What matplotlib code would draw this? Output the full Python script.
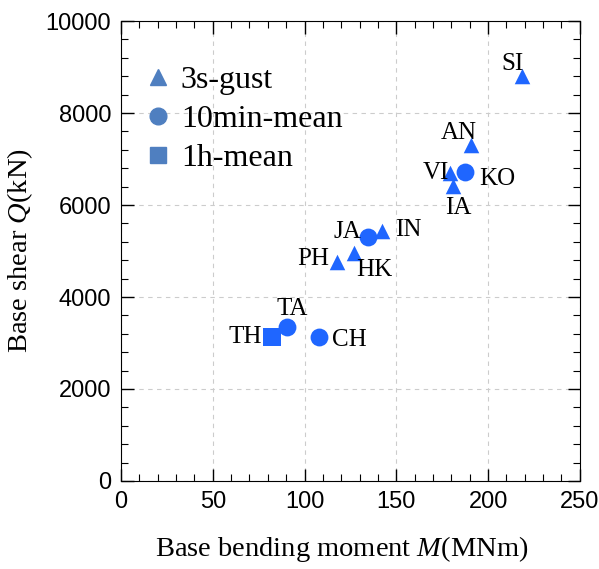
import matplotlib
matplotlib.use('Agg')
import matplotlib.pyplot as plt
from matplotlib.lines import Line2D
from matplotlib.ticker import MultipleLocator

plt.rcParams['mathtext.fontset'] = 'custom'
plt.rcParams['mathtext.rm'] = 'Liberation Serif'
plt.rcParams['mathtext.it'] = 'Liberation Serif:italic'

# Données : moment (MNm), effort tranchant (kN)
gust_names = ['SI', 'AN', 'VI', 'IA', 'IN', 'HK', 'PH']
gust_M = [218.4, 190.6, 179.2, 180.8, 142.0, 126.9, 117.6]
gust_Q = [8800, 7300, 6700, 6410, 5430, 4960, 4760]

mean10_names = ['KO', 'JA', 'TA', 'CH']
mean10_M = [187.4, 134.5, 90.4, 107.8]
mean10_Q = [6710, 5300, 3350, 3130]

hour_names = ['TH']
hour_M = [82.2]
hour_Q = [3130]

# décalages des étiquettes (points)
offsets = {'SI': (-7, 9), 'AN': (-9, 9), 'VI': (-10, 0), 'IA': (4, -16),
           'IN': (19, 1), 'HK': (15, -12), 'PH': (-17, 2), 'KO': (23, -5),
           'JA': (-15, 4), 'TA': (4, 13), 'CH': (22, -2), 'TH': (-19, 0)}

BLUE = '#1f66ff'
LEG = '#4f7fc0'

fig = plt.figure(figsize=(5.99, 5.69), dpi=100)
ax = fig.add_axes([0.202, 0.1547, 0.766, 0.8083])

ax.scatter(gust_M, gust_Q, marker='^', s=125, color=BLUE, zorder=3, linewidths=0)
ax.scatter(mean10_M, mean10_Q, marker='o', s=165, color=BLUE, zorder=3, linewidths=0)
ax.scatter(hour_M, hour_Q, marker='s', s=160, color=BLUE, zorder=3, linewidths=0)

for names, xs, ys in [(gust_names, gust_M, gust_Q), (mean10_names, mean10_M, mean10_Q),
                      (hour_names, hour_M, hour_Q)]:
    for n, x, y in zip(names, xs, ys):
        ax.annotate(n, (x, y), xytext=offsets[n], textcoords='offset points',
                    ha='center', va='center', fontsize=18, family='Liberation Serif', zorder=4)

ax.set_xlim(0, 250)
ax.set_ylim(0, 10000)
ax.xaxis.set_major_locator(MultipleLocator(50))
ax.xaxis.set_minor_locator(MultipleLocator(10))
ax.yaxis.set_major_locator(MultipleLocator(2000))
ax.yaxis.set_minor_locator(MultipleLocator(400))
ax.tick_params(which='both', direction='in', top=True, right=True)
ax.tick_params(which='major', length=9, width=1, labelsize=17, pad=7)
ax.tick_params(which='minor', length=5, width=0.8)
for lab in ax.get_xticklabels() + ax.get_yticklabels():
    lab.set_family('Liberation Sans')
ax.grid(True, which='major', linestyle=(0, (4, 4)), color='#cccccc', linewidth=0.8)
ax.set_axisbelow(True)

ax.set_xlabel('Base bending moment $M$(MNm)', fontsize=20.5, family='Liberation Serif')
ax.xaxis.set_label_coords(0.482, -0.116)
ax.set_ylabel('Base shear $Q$(kN)', fontsize=20.5, family='Liberation Serif', labelpad=8)

handles = [Line2D([], [], marker='^', linestyle='', color=LEG, markersize=11, label='3s-gust'),
           Line2D([], [], marker='o', linestyle='', color=LEG, markersize=12, label='10min-mean'),
           Line2D([], [], marker='s', linestyle='', color=LEG, markersize=12, label='1h-mean')]
ax.legend(handles=handles, loc='upper left', bbox_to_anchor=(0.019, 0.93), frameon=False,
          prop={'family': 'Liberation Serif', 'size': 23}, handlelength=1.0,
          handletextpad=0.2, labelspacing=0.3, borderaxespad=0)

fig.savefig('out.png', dpi=100)
